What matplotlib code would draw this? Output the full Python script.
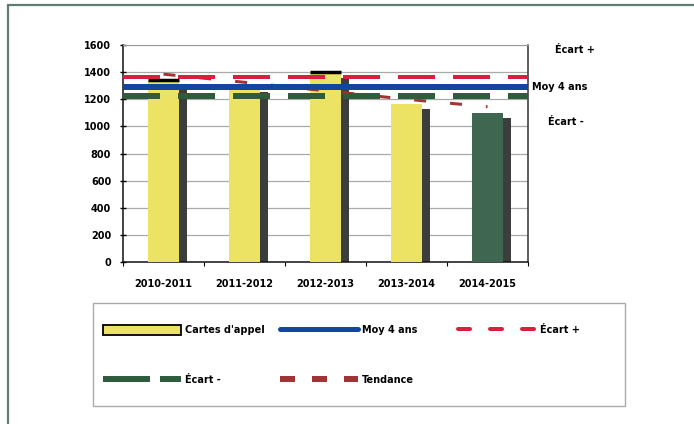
import numpy as np
import matplotlib
matplotlib.use("Agg")
import matplotlib.pyplot as plt
from matplotlib.lines import Line2D
from matplotlib.patches import Patch, Rectangle

plt.rcParams['font.family'] = ['DejaVu Sans']
plt.rcParams['font.weight'] = 'bold'

# data
saisons = ["2010-2011", "2011-2012", "2012-2013", "2013-2014", "2014-2015"]
cartes_appel = [1340, 1290, 1400, 1165, 1100]
moy_4_ans = 1290
ecart_plus = 1362
ecart_moins = 1225
tendance = [1385, 1325, 1262, 1200, 1145]

PX = 0.72  # one pixel in points at 100 dpi

yellow = '#ece264'
dark_green = '#3f6650'
shadow = '#3b3e3c'
blue = '#1446a0'
red = '#d8203e'
green = '#2e5c3c'
brown = '#a13434'

fig = plt.figure(figsize=(6.94, 4.24), dpi=100)

# outer frame of the scanned page
fig.patches.append(Rectangle((8 / 694, -0.05), 1.0, 1 - 5 / 424 + 0.05,
                             transform=fig.transFigure, fill=False,
                             edgecolor='#5f7d74', linewidth=1.6))

ax = fig.add_axes([123 / 694, 1 - 262 / 424, (528 - 123) / 694, (262 - 45) / 424])
x = np.arange(len(saisons))

# bar shadows then bars
bar_colors = [yellow] * 4 + [dark_green]
ax.bar(x + 0.1, np.array(cartes_appel) - 40, width=0.38, color=shadow, zorder=2)
ax.bar(x, cartes_appel, width=0.38, color=bar_colors, zorder=3)
for i in (0, 2):
    ax.plot([x[i] - 0.19, x[i] + 0.19], [cartes_appel[i], cartes_appel[i]],
            color='black', lw=2.5, solid_capstyle='butt', zorder=4)

# trend line, mostly hidden under the reference lines
ax.plot(x, tendance, color=brown, lw=3 * PX, dashes=(12 / 3, 24 / 3), zorder=4)

# reference lines
ax.axhline(moy_4_ans, color=blue, lw=6 * PX, zorder=5)
ax.axhline(ecart_plus, color=red, lw=4 * PX, zorder=5,
           dashes=(37 / 4, 18 / 4), dash_capstyle='butt')
ax.axhline(ecart_moins, color=green, lw=6 * PX, zorder=5,
           dashes=(37 / 6, 18 / 6), dash_capstyle='butt')

ax.set_xlim(-0.5, 4.5)
ax.set_ylim(0, 1600)
ax.set_yticks(np.arange(0, 1601, 200))
ax.set_xticks(x)
ax.set_xticklabels(saisons)
ax.set_xticks(np.arange(-0.5, 4.6, 1), minor=True)
ax.grid(axis='y', color='#a9a9a9', lw=0.9, zorder=0)
ax.tick_params(axis='y', direction='inout', length=5, width=1, labelsize=7, pad=6)
ax.tick_params(axis='x', which='major', length=0, labelsize=7, pad=12)
ax.tick_params(axis='x', which='minor', direction='out', length=3, width=0.8)
for side in ('left', 'bottom'):
    ax.spines[side].set_color('#111111')
    ax.spines[side].set_linewidth(1.1)
ax.spines['right'].set_color('#333333')
ax.spines['right'].set_linewidth(1.1)
ax.spines['top'].set_color('#9a9a9a')
ax.spines['top'].set_linewidth(0.8)
ax.set_axisbelow(True)

# labels to the right of the plot
fig.text(555 / 694, 1 - 50 / 424, "Écart +", fontsize=7, va='center')
fig.text(532 / 694, 1 - 87 / 424, "Moy 4 ans", fontsize=7, va='center')
fig.text(548 / 694, 1 - 122 / 424, "Écart -", fontsize=7, va='center')

# legend box
fig.patches.append(Rectangle((93 / 694, 1 - 406 / 424), (625 - 93) / 694, (406 - 303) / 424,
                             transform=fig.transFigure, fill=False,
                             edgecolor='#a8aca8', linewidth=1.0))

h_cartes = Patch(facecolor=yellow, edgecolor='black', linewidth=1.3)
h_moy = Line2D([], [], color=blue, lw=5 * PX, solid_capstyle='round')
h_plus = Line2D([], [], color=red, lw=4 * PX, dashes=(12 / 4, 20 / 4), dash_capstyle='round')
h_moins = Line2D([], [], color=green, lw=6 * PX, dashes=(47 / 6, 10 / 6))
h_tend = Line2D([], [], color=brown, lw=6 * PX, dashes=(15 / 6, 17 / 6))

columns = [
    (103, [h_cartes, h_moins], ["Cartes d'appel", "Écart -"]),
    (280, [h_moy, h_tend], ["Moy 4 ans", "Tendance"]),
    (458, [h_plus], ["Écart +"]),
]
for x0, handles, labels in columns:
    fig.legend(handles, labels, loc='upper left',
               bbox_to_anchor=(x0 / 694, 1 - 325 / 424),
               frameon=False, fontsize=7, handlelength=8.0, handleheight=1.2,
               handletextpad=0.4, labelspacing=4.1, borderpad=0, borderaxespad=0)

fig.savefig("out.png", dpi=100)
